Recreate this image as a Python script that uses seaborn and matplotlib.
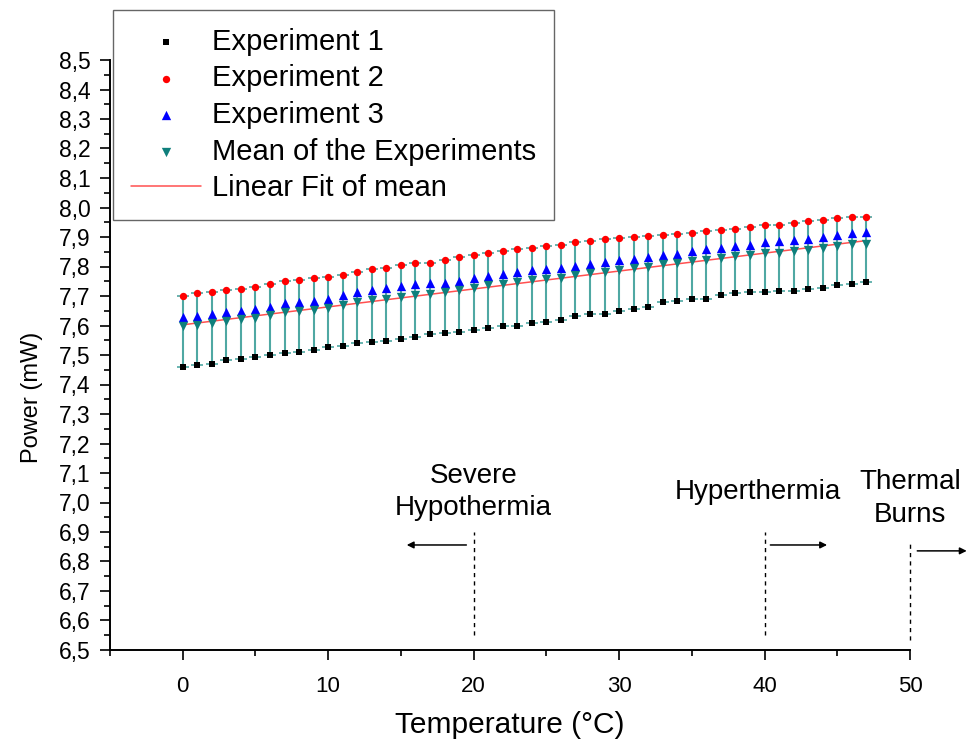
import numpy as np
import pandas as pd
import matplotlib
matplotlib.use("Agg")
import matplotlib.pyplot as plt
import seaborn as sns
from matplotlib.ticker import MultipleLocator, FuncFormatter

# ---------------- data ----------------
temperature = np.arange(0, 48)

exp1 = [7.460, 7.465, 7.470, 7.482, 7.487, 7.494, 7.501, 7.508, 7.510, 7.518,
        7.526, 7.531, 7.540, 7.544, 7.549, 7.555, 7.561, 7.570, 7.573, 7.577,
        7.586, 7.593, 7.599, 7.599, 7.608, 7.612, 7.620, 7.631, 7.638, 7.640,
        7.648, 7.655, 7.664, 7.681, 7.683, 7.689, 7.691, 7.703, 7.709, 7.714,
        7.714, 7.716, 7.718, 7.723, 7.727, 7.736, 7.742, 7.747]

exp2 = [7.701, 7.709, 7.713, 7.720, 7.725, 7.732, 7.741, 7.750, 7.754, 7.760,
        7.764, 7.771, 7.782, 7.793, 7.795, 7.804, 7.811, 7.811, 7.822, 7.833,
        7.839, 7.845, 7.853, 7.860, 7.862, 7.869, 7.874, 7.882, 7.886, 7.892,
        7.895, 7.901, 7.903, 7.907, 7.911, 7.915, 7.920, 7.925, 7.927, 7.933,
        7.940, 7.940, 7.946, 7.953, 7.958, 7.964, 7.967, 7.969]

exp3 = [7.630, 7.633, 7.640, 7.645, 7.650, 7.655, 7.664, 7.675, 7.680, 7.684,
        7.691, 7.702, 7.713, 7.721, 7.726, 7.735, 7.741, 7.743, 7.745, 7.752,
        7.760, 7.769, 7.775, 7.780, 7.788, 7.790, 7.794, 7.801, 7.808, 7.816,
        7.821, 7.824, 7.831, 7.839, 7.841, 7.852, 7.858, 7.862, 7.868, 7.873,
        7.882, 7.885, 7.889, 7.892, 7.899, 7.908, 7.915, 7.917]

series_labels = ["Experiment 1", "Experiment 2", "Experiment 3",
                 "Mean of the Experiments", "Linear Fit of mean"]

zone_labels = ["Severe\nHypothermia", "Hyperthermia", "Thermal\nBurns"]
zone_limits = [20, 40, 50]

# --------------- derived ---------------
mean_vals = np.mean(np.array([exp1, exp2, exp3]), axis=0)
low = np.minimum.reduce([exp1, exp2, exp3])
high = np.maximum.reduce([exp1, exp2, exp3])

df = pd.DataFrame({"T": temperature, "e1": exp1, "e2": exp2,
                   "e3": exp3, "mean": mean_vals})

# --------------- style ----------------
sns.set_theme(style="ticks")
plt.rcParams["font.family"] = ["Liberation Sans", "DejaVu Sans"]
plt.rcParams["axes.unicode_minus"] = False
plt.rcParams["text.color"] = "black"
plt.rcParams["axes.labelcolor"] = "black"
plt.rcParams["xtick.color"] = "black"
plt.rcParams["ytick.color"] = "black"

fig = plt.figure(figsize=(9.74, 7.49), dpi=100)
ax = fig.add_axes([110 / 974, 1 - 650 / 749, 800 / 974, 590 / 749])

teal = "#0f7f7c"

# error bars (range of experiments)
ax.errorbar(df["T"], df["mean"], yerr=[df["mean"] - low, high - df["mean"]],
            fmt="none", ecolor="#4fa8a3", elinewidth=1.5, capsize=4,
            capthick=1.2, zorder=2)

sns.regplot(data=df, x="T", y="mean", scatter=False, ci=None, ax=ax,
            label=series_labels[4],
            line_kws=dict(color="#ff5050", lw=1.1, zorder=3))

sns.scatterplot(data=df, x="T", y="e1", ax=ax, marker="s", color="black",
                s=20, linewidth=0, label=series_labels[0], zorder=4)
sns.scatterplot(data=df, x="T", y="e2", ax=ax, marker="o", color="#ff0000",
                s=28, linewidth=0, label=series_labels[1], zorder=4)
sns.scatterplot(data=df, x="T", y="e3", ax=ax, marker="^", color="#0000ff",
                s=45, linewidth=0, label=series_labels[2], zorder=4)
sns.scatterplot(data=df, x="T", y="mean", ax=ax, marker="v", color=teal,
                s=45, linewidth=0, label=series_labels[3], zorder=5)

handles, labels = ax.get_legend_handles_labels()
order = [labels.index(l) for l in series_labels]
handles = [handles[i] for i in order]
labels = [labels[i] for i in order]
if ax.get_legend() is not None:
    ax.get_legend().remove()

leg = fig.legend(handles, labels, loc="upper left",
                 bbox_to_anchor=(113 / 974, 1 - 10 / 749),
                 borderaxespad=0, fontsize=21, frameon=True, fancybox=False,
                 handlelength=2.4, handletextpad=0.4, labelspacing=0.3,
                 borderpad=0.6, markerscale=1.0)
leg.get_frame().set_edgecolor("#404040")
leg.get_frame().set_linewidth(1.0)

# axes
ax.set_xlim(-5, 50)
ax.set_ylim(6.5, 8.5)
ax.xaxis.set_major_locator(MultipleLocator(10))
ax.xaxis.set_minor_locator(MultipleLocator(5))
ax.yaxis.set_major_locator(MultipleLocator(0.1))
ax.yaxis.set_minor_locator(MultipleLocator(0.05))
ax.yaxis.set_major_formatter(FuncFormatter(lambda v, p: f"{v:.1f}".replace(".", ",")))
ax.xaxis.set_major_formatter(FuncFormatter(lambda v, p: f"{v:.0f}"))

for s in ["top", "right"]:
    ax.spines[s].set_visible(False)
for s in ["left", "bottom"]:
    ax.spines[s].set_color("black")
    ax.spines[s].set_linewidth(1.4)

ax.tick_params(axis="both", which="major", direction="out", length=7, width=1.2,
               color="black", labelcolor="black", left=True, bottom=True)
ax.tick_params(axis="both", which="minor", direction="out", length=4, width=1.2,
               color="black", left=True, bottom=True)
ax.tick_params(axis="y", labelsize=16.5, pad=7)
ax.tick_params(axis="x", labelsize=16, pad=12)

ax.set_xlabel("Temperature (°C)", fontsize=21.5, labelpad=10)
ax.set_ylabel("Power (mW)", fontsize=17)
ax.yaxis.set_label_coords((43 - 110) / 800, (650 - 397) / 590)

# zones
for xv in zone_limits:
    top = 6.90 if xv < 50 else 6.873
    ax.vlines(xv, 6.55 if xv < 50 else 6.535, top, colors="black",
              linestyles=(0, (3, 3)), lw=1.0, zorder=1, clip_on=False)

arrow_kw = dict(arrowstyle="-|>", color="black", lw=1.1, mutation_scale=10,
                shrinkA=0, shrinkB=0)
ax.annotate("", xy=(15.4, 6.856), xytext=(19.5, 6.856), arrowprops=arrow_kw,
            annotation_clip=False)
ax.annotate("", xy=(44.3, 6.856), xytext=(40.4, 6.856), arrowprops=arrow_kw,
            annotation_clip=False)
ax.annotate("", xy=(53.9, 6.836), xytext=(50.5, 6.836), arrowprops=arrow_kw,
            annotation_clip=False)

ax.text(20, 7.035, zone_labels[0], ha="center", va="center", fontsize=20,
        linespacing=1.3, clip_on=False)
ax.text(39.55, 7.036, zone_labels[1], ha="center", va="center", fontsize=20,
        clip_on=False)
ax.text(50.0, 7.012, zone_labels[2], ha="center", va="center", fontsize=20,
        linespacing=1.35, clip_on=False)

fig.savefig("out.png", dpi=100)
